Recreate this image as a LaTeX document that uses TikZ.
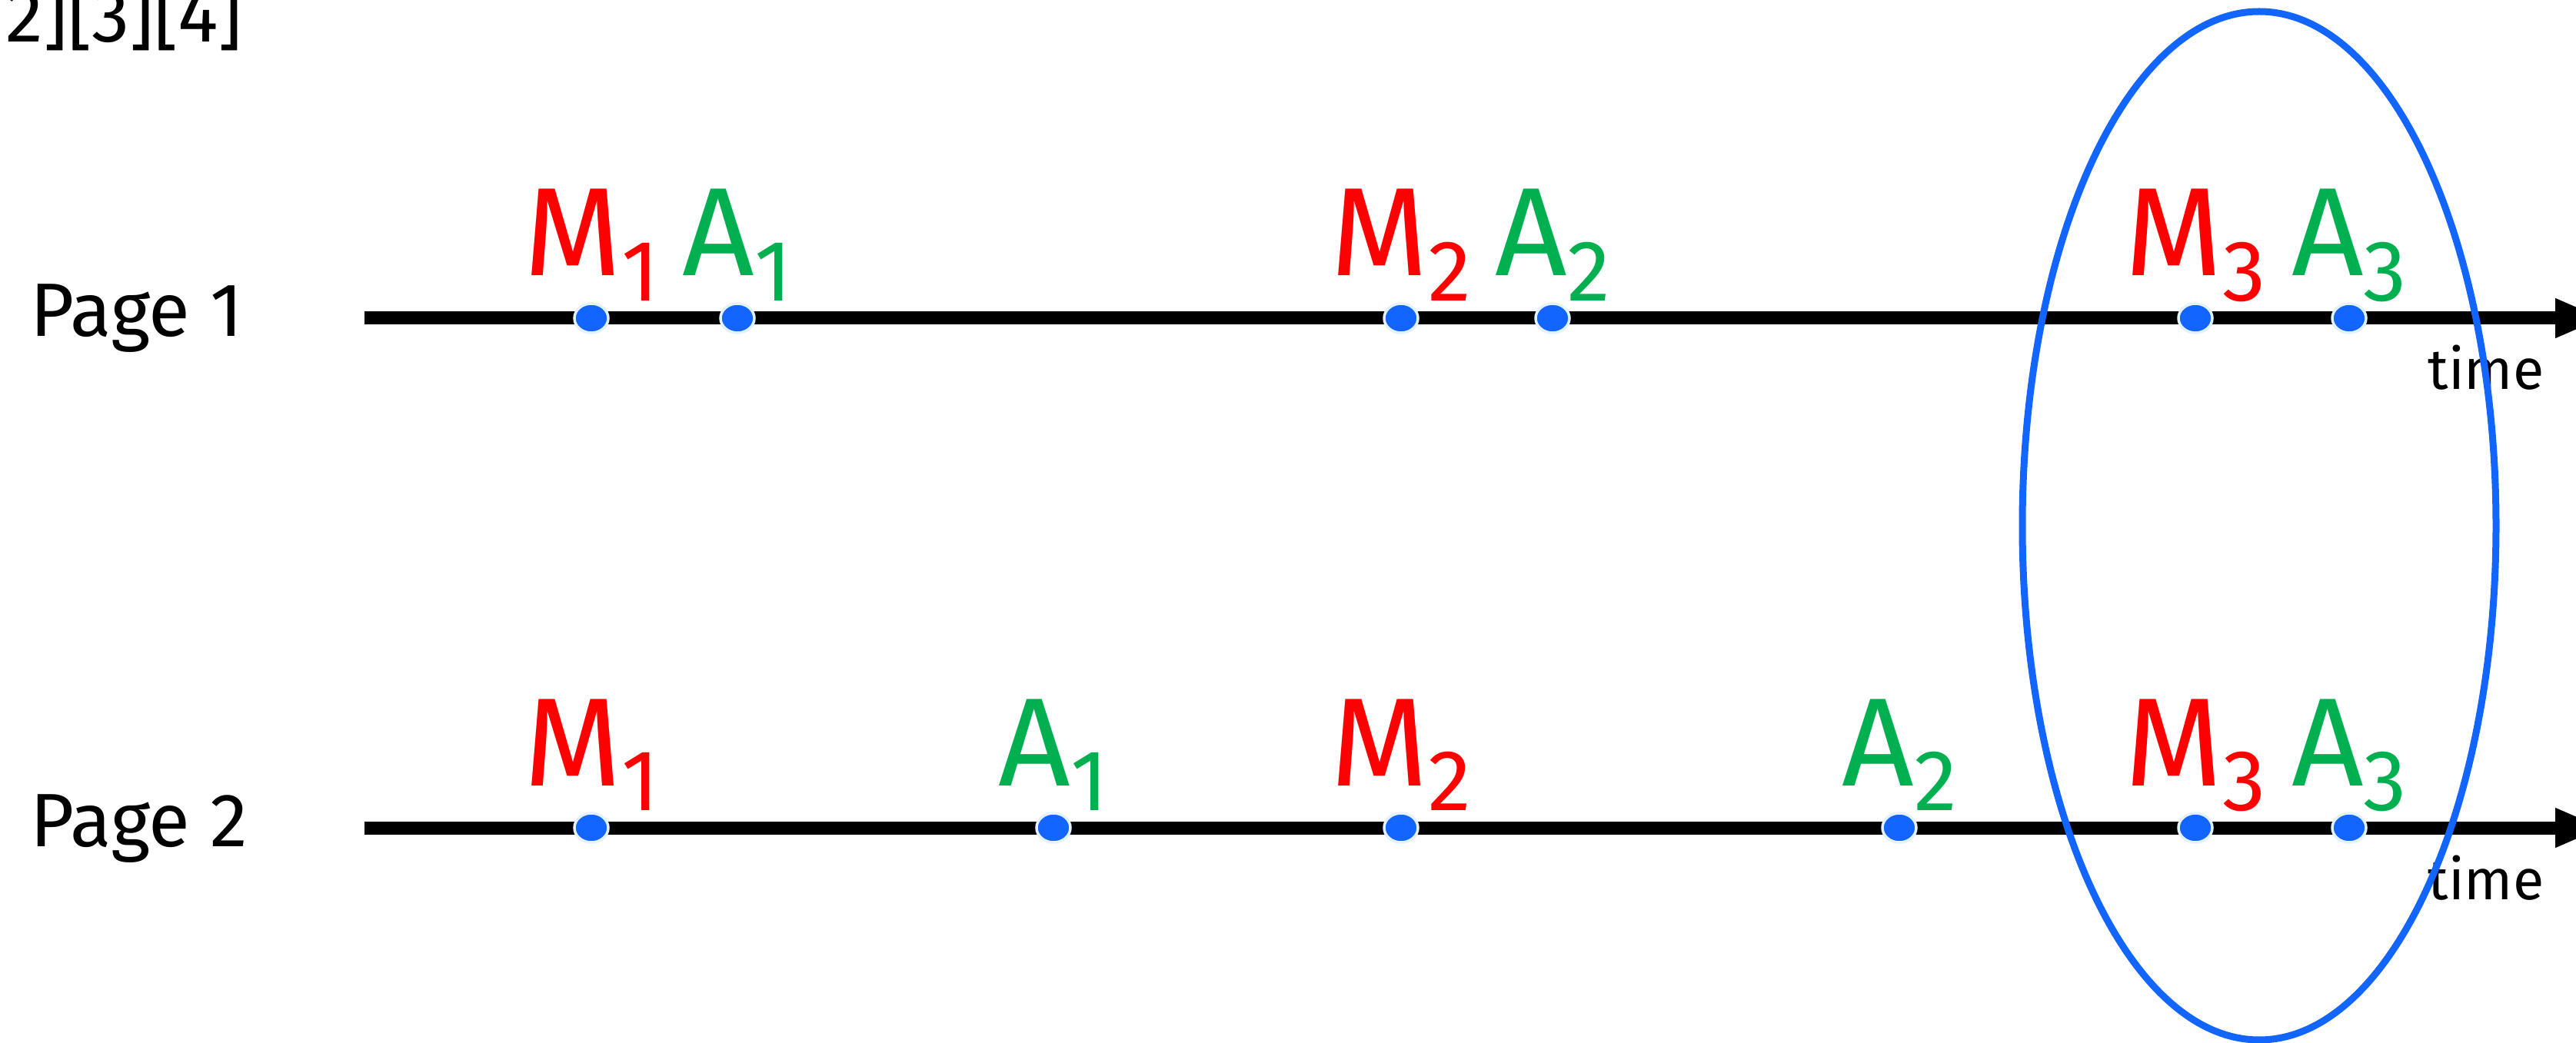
\documentclass[tikz,border=0pt]{standalone}
\usepackage{fontspec}
\setmainfont{Fira Sans}
\usetikzlibrary{arrows.meta,shapes.geometric}
\definecolor{dotblue}{HTML}{1265FF}
\definecolor{ringblue}{HTML}{E4F1FF}
\definecolor{mred}{HTML}{FF0000}
\definecolor{agreen}{HTML}{00B050}
\newcommand{\evt}[2]{#1\raisebox{-0.33cm}{\fontsize{32}{34}\selectfont #2}}

\begin{document}
\begin{tikzpicture}[x=1cm, y=1cm,
  every node/.style={inner sep=0pt},
  timeline/.style={line width=0.17cm, -{Triangle[length=0.63cm, width=0.47cm]}},
  evdot/.style={ellipse, fill=dotblue, draw=ringblue, line width=0.035cm, minimum width=0.44cm, minimum height=0.38cm},
  evlab/.style={anchor=base, font=\fontsize{46.5}{50}\selectfont},
  mlab/.style={evlab, text=mred},
  alab/.style={evlab, text=agreen},
  page/.style={anchor=base west, font=\fontsize{28}{32}\selectfont},
  tlab/.style={anchor=base east, font=\fontsize{21}{24}\selectfont},
  window/.style={ellipse, draw=dotblue, line width=0.09cm, minimum width=6.16cm, minimum height=13.38cm}]
  \useasboundingbox (0,0) rectangle (33.5,13.56);
  % time lines
  \coordinate (p1s) at (4.74,9.42);
  \coordinate (p1e) at (33.86,9.42);
  \coordinate (p2s) at (4.74,2.79);
  \coordinate (p2e) at (33.86,2.79);
  \draw[timeline] (p1s) -- (p1e);
  \draw[timeline] (p2s) -- (p2e);
  % page 1 events
  \node[evdot] (p1m1) at (7.69,9.42) {};
  \node[evdot] (p1a1) at (9.59,9.42) {};
  \node[evdot] (p1m2) at (18.22,9.42) {};
  \node[evdot] (p1a2) at (20.19,9.42) {};
  \node[evdot] (p1m3) at (28.55,9.42) {};
  \node[evdot] (p1a3) at (30.55,9.42) {};
  \node[mlab] (p1m1l) at (7.69,9.97) {\evt{M}{1}};
  \node[alab] (p1a1l) at (9.59,9.97) {\evt{A}{1}};
  \node[mlab] (p1m2l) at (18.22,9.97) {\evt{M}{2}};
  \node[alab] (p1a2l) at (20.19,9.97) {\evt{A}{2}};
  \node[mlab] (p1m3l) at (28.55,9.97) {\evt{M}{3}};
  \node[alab] (p1a3l) at (30.55,9.97) {\evt{A}{3}};
  % page 2 events
  \node[evdot] (p2m1) at (7.69,2.79) {};
  \node[evdot] (p2a1) at (13.70,2.79) {};
  \node[evdot] (p2m2) at (18.22,2.79) {};
  \node[evdot] (p2a2) at (24.70,2.79) {};
  \node[evdot] (p2m3) at (28.55,2.79) {};
  \node[evdot] (p2a3) at (30.55,2.79) {};
  \node[mlab] (p2m1l) at (7.69,3.34) {\evt{M}{1}};
  \node[alab] (p2a1l) at (13.70,3.34) {\evt{A}{1}};
  \node[mlab] (p2m2l) at (18.22,3.34) {\evt{M}{2}};
  \node[alab] (p2a2l) at (24.70,3.34) {\evt{A}{2}};
  \node[mlab] (p2m3l) at (28.55,3.34) {\evt{M}{3}};
  \node[alab] (p2a3l) at (30.55,3.34) {\evt{A}{3}};
  % texts
  \node[page] (refs) at (0.07,13.01) {2][3][4]};
  \node[page] (page1) at (0.39,9.18) {Page 1};
  \node[page] (page2) at (0.39,2.55) {Page 2};
  \node[tlab] (time1) at (33.09,8.49) {time};
  \node[tlab] (time2) at (33.09,1.86) {time};
  \node[window] (win) at (29.38,6.72) {};
\end{tikzpicture}
\end{document}
